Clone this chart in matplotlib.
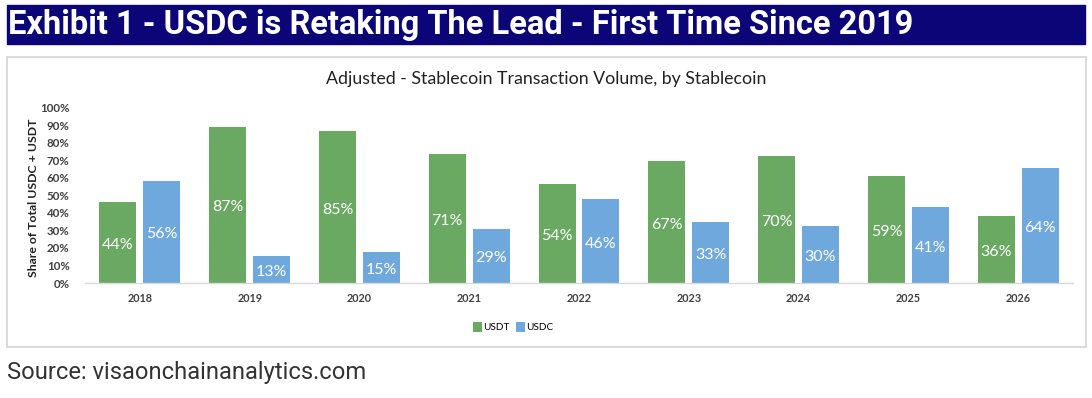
import numpy as np
import matplotlib.pyplot as plt
from matplotlib.patches import Rectangle

# valeurs (hauteur des barres) + etiquettes imprimees
years = ['2018', '2019', '2020', '2021', '2022', '2023', '2024', '2025', '2026']
usdt_height = [46.3, 89.1, 86.6, 73.3, 56.6, 69.5, 72.2, 60.8, 38.2]
usdc_height = [58.3, 15.6, 17.7, 31.0, 47.9, 34.8, 32.3, 43.3, 65.8]
usdt_label = [44, 87, 85, 71, 54, 67, 70, 59, 36]
usdc_label = [56, 13, 15, 29, 46, 33, 30, 41, 64]
yticks = list(range(0, 101, 10))

green = '#6aa962'
blue = '#6fa8dc'
navy = '#0c0577'
W, H = 1092, 398

fig = plt.figure(figsize=(W / 100, H / 100), dpi=100)
fig.patch.set_facecolor('white')

# bandeau titre
fig.patches.append(Rectangle((7 / W, 1 - 44 / H), 1078 / W, 39 / H,
                             transform=fig.transFigure, color=navy, zorder=-5))
fig.text(8 / W, 1 - 25 / H, 'Exhibit 1 - USDC is Retaking The Lead - First Time Since 2019',
         color='white', fontsize=23.5, fontweight='bold', family='Roboto',
         va='center', ha='left')

# cadre du graphique
fig.patches.append(Rectangle((7 / W, 1 - 347 / H), 1079 / W, 290 / H,
                             transform=fig.transFigure, facecolor='white',
                             edgecolor='#d4d4d4', lw=1.2, zorder=-5))

fig.text(546 / W, 1 - 79 / H, 'Adjusted - Stablecoin Transaction Volume, by Stablecoin',
         fontsize=12.8, family='Lato', color='#222222', ha='center', va='center')

ax = fig.add_axes([85 / W, 1 - 283 / H, 988 / W, 175.5 / H])
ax.set_facecolor('none')
x = np.arange(len(years))
off = 0.2
w = 0.337
b1 = ax.bar(x - off, usdt_height, w, color=green, label='USDT')
b2 = ax.bar(x + off, usdc_height, w, color=blue, label='USDC')

for xi, h, lab in zip(x - off, usdt_height, usdt_label):
    ax.text(xi, h / 2 - 1.5, f'{lab}%', color='white', fontsize=11.5, family='Lato',
            ha='center', va='center')
for xi, h, lab in zip(x + off, usdc_height, usdc_label):
    ax.text(xi, h / 2 - 1.5, f'{lab}%', color='white', fontsize=11.5, family='Lato',
            ha='center', va='center')

ax.set_xlim(-0.5, len(years) - 0.5)
ax.set_ylim(0, 100)
ax.set_yticks(yticks)
ax.set_yticklabels([f'{t}%' for t in yticks], fontsize=8.3, fontweight='bold',
                   family='Lato', color='#404040')
ax.set_xticks(x)
ax.set_xticklabels(years, fontsize=7.8, fontweight='bold', family='Lato', color='#404040')
ax.tick_params(length=0, pad=7)
ax.tick_params(axis='y', pad=11)
for s in ['top', 'right', 'left']:
    ax.spines[s].set_visible(False)
ax.spines['bottom'].set_color('#d9d9d9')
ax.spines['bottom'].set_linewidth(1)

fig.text(34 / W, 1 - 198 / H, 'Share of Total USDC + USDT', rotation=90,
         fontsize=8.8, fontweight='bold', family='Lato', color='#222222',
         ha='center', va='center')

leg = fig.legend(handles=[b1, b2], labels=['USDT', 'USDC'], loc='center',
                 bbox_to_anchor=(513 / W, 1 - 327 / H), ncol=2, frameon=False,
                 prop={'family': 'Lato', 'size': 7.2}, handlelength=0.9,
                 handleheight=1.3, handletextpad=0.1, columnspacing=0.7)

fig.text(7 / W, 1 - 372 / H, 'Source: visaonchainanalytics.com', fontsize=17.1,
         family='Roboto', color='#333333', ha='left', va='center')

fig.savefig('out.png', dpi=100)
